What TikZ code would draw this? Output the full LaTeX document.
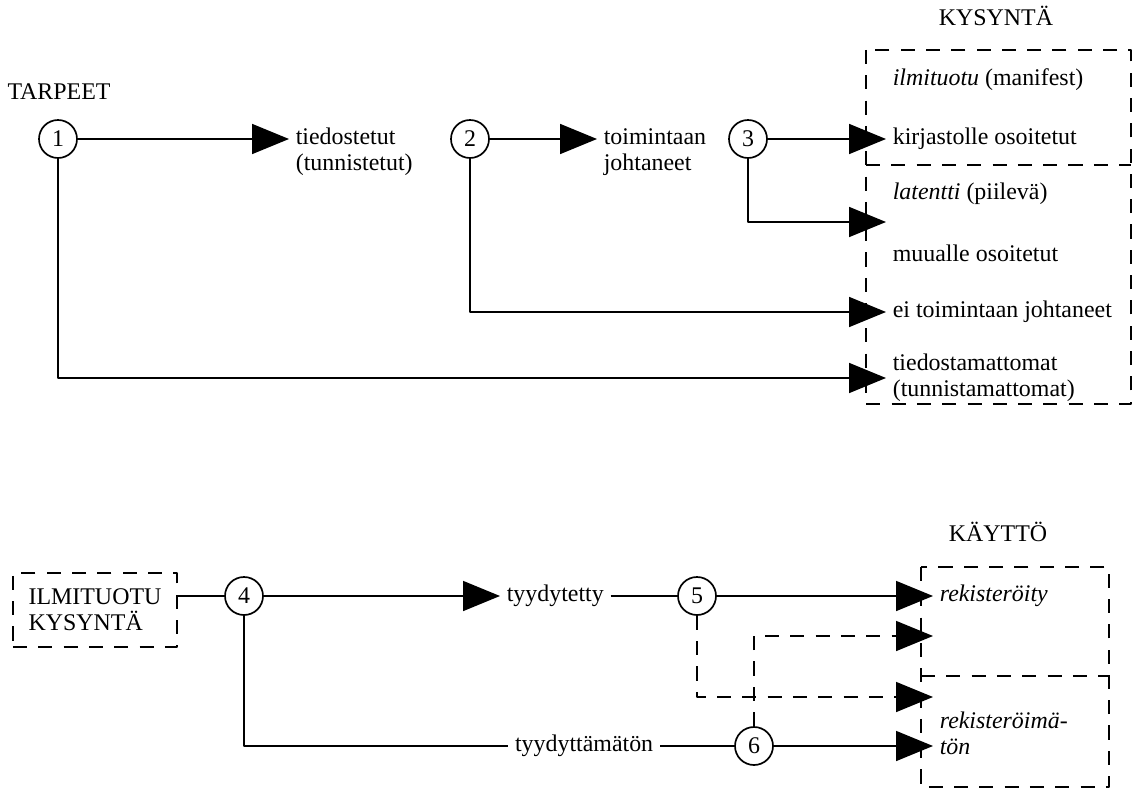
\documentclass[tikz,border=0pt]{standalone}
\usepackage{fontspec}
\setmainfont{Liberation Serif}
\usetikzlibrary{arrows.meta}

\begin{document}
\begin{tikzpicture}[x=0.25mm, y=-0.25mm, font=\fontsize{17}{18.5}\selectfont, line join=round, line width=1.2pt,
    num/.style={circle, draw, minimum size=9.5mm, inner sep=0pt},
    txt/.style={anchor=west, align=left, inner sep=1.5mm},
    arr/.style={-{Triangle[length=9.25mm,width=7.5mm]}},
    dsh/.style={dash pattern=on 10pt off 8pt}]
    \useasboundingbox (0,0) rectangle (1140,790);
    \def\xa{866} \def\xb{1131} % hộp KYSYNTÄ
    \def\xc{921} \def\xd{1109} % hộp KÄYTTÖ

    % KYSYNTÄ
    \node (tarp) at (59,92) {TARPEET};
    \node (kys) at (996,16) {KYSYNTÄ};
    \draw[dsh] (\xa,50) rectangle (\xb,404);
    \draw[dsh] (\xa,165) -- (\xb,165);

    \node[num] (n1) at (58,139) {1};
    \node[num] (n2) at (470,139) {2};
    \node[num] (n3) at (748,139) {3};

    \node[txt] (tied) at (289,152) {tiedostetut\\(tunnistetut)};
    \node[txt] (toim) at (597,152) {toimintaan\\johtaneet};
    \node[txt] (ilm) at (\xa+20,80) {\textit{ilmituotu} (manifest)};
    \node[txt] (kirj) at (\xa+20,139) {kirjastolle osoitetut};
    \node[txt] (lat) at (\xa+20,194) {\textit{latentti} (piilevä)};
    \coordinate (lat2) at (\xa+20,222);
    \node[txt] (muu) at (\xa+20,253) {muualle osoitetut};
    \node[txt] (eitoim) at (\xa+20,312) {ei toimintaan johtaneet};
    \node[txt] (tiedo) at (\xa+20,378) {tiedostamattomat\\(tunnistamattomat)};

    \draw[arr] (n1) -- (n1 -| tied.west);
    \draw[arr] (n2) -- (n2 -| toim.west);
    \draw[arr] (n3) -- (kirj.west);
    \draw[arr] (n3) |- (lat2);
    \draw[arr] (n2) |- (eitoim.west);
    \draw[arr] (n1) |- (tiedo.west);

    % KÄYTTÖ
    \node (kay) at (998,532) {KÄYTTÖ};
    \draw[dsh] (\xc,567) rectangle (\xd,787);
    \draw[dsh] (\xc,676) -- (\xd,676);
    \node[draw, dsh, align=left, minimum width=41mm, minimum height=18.5mm] (ik) at (95,610) {ILMITUOTU\\KYSYNTÄ};

    \node[num] (n4) at (244,596) {4};
    \node[txt] (tyy) at (500,596) {tyydytetty};
    \node[num] (n5) at (697,596) {5};
    \node[txt] (rek) at (\xc+12,596) {\textit{rekisteröity}};
    \node[txt, anchor=east] (tyy2) at (660,746) {tyydyttämätön};
    \node[num] (n6) at (754,746) {6};
    \node[txt] (rek2) at (\xc+12,733) {\textit{rekisteröimä-}\\\textit{tön}};
    \coordinate (r1) at (\xc+12,636);
    \coordinate (r2) at (\xc+12,697);

    \draw (n4 -| ik.east) -- (n4);
    \draw[arr] (n4) -- (tyy.west);
    \draw (tyy.east) -- (n5);
    \draw[arr] (n5) -- (rek.west);
    \draw (n4) |- (tyy2.west);
    \draw (tyy2.east) -- (n6);
    \draw[arr] (n6) -- (n6 -| rek2.west);
    \draw[arr, dsh] (n5) |- (r2);
    \draw[arr, dsh] (n6) |- (r1);
\end{tikzpicture}
\end{document}
